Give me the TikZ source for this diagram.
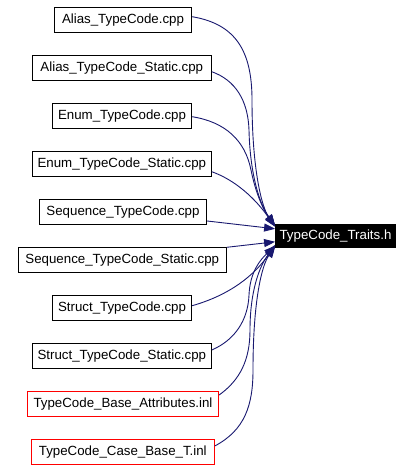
\documentclass[tikz,border=0pt]{standalone}
\usepackage{fontspec}
\setmainfont{Liberation Sans}
\usetikzlibrary{arrows.meta}
\definecolor{edgeblue}{HTML}{191970}
\tikzset{
  filebox/.style={draw=black, line width=0.9pt, minimum height=25pt, inner xsep=2pt, inner ysep=0pt, font=\fontsize{13.3}{16}\selectfont, anchor=center},
  redbox/.style={filebox, draw=red},
  mainbox/.style={fill=black, text=white, minimum height=23.7pt, minimum width=120.4pt, inner xsep=2pt, inner ysep=0pt, font=\fontsize{13.3}{16}\selectfont},
  dep/.style={draw=edgeblue, line width=0.9pt, -{Triangle[length=11pt,width=8pt]}, edgeblue}
}
\begin{document}
\begin{tikzpicture}[x=1pt,y=-1pt]
\useasboundingbox[fill=white] (0,0) rectangle (414,470);
\node[filebox, minimum width=137.4pt] (a1) at (123,19.8) {Alias\_TypeCode.cpp};
\node[filebox, minimum width=179pt] (a2) at (121.8,67.8) {Alias\_TypeCode\_Static.cpp};
\node[filebox, minimum width=139.4pt] (a3) at (122,115.8) {Enum\_TypeCode.cpp};
\node[filebox, minimum width=179pt] (a4) at (121.8,163.8) {Enum\_TypeCode\_Static.cpp};
\node[filebox, minimum width=167.4pt] (a5) at (123,211.8) {Sequence\_TypeCode.cpp};
\node[filebox, minimum width=208pt] (a6) at (122.3,260) {Sequence\_TypeCode\_Static.cpp};
\node[filebox, minimum width=139.4pt] (a7) at (122,307.8) {Struct\_TypeCode.cpp};
\node[filebox, minimum width=179pt] (a8) at (121.8,355.8) {Struct\_TypeCode\_Static.cpp};
\node[redbox, minimum width=191.4pt] (a9) at (123,403.8) {TypeCode\_Base\_Attributes.inl};
\node[redbox, minimum width=183pt] (a10) at (122.8,451.8) {TypeCode\_Case\_Base\_T.inl};
\node[mainbox] (t) at (335.5,235.8) {TypeCode\_Traits.h};

\draw[dep] ([yshift=3.1pt]a1.east) .. controls (235,24) and (252,50) .. (252,100) .. controls (252,170) and (262,208) .. ([yshift=10.5pt]t.west);
\draw[dep] ([yshift=-3.9pt]a2.east) .. controls (235,80) and (248,100) .. (249,130) .. controls (250,175) and (260,205) .. ([yshift=10pt]t.west);
\draw[dep] ([yshift=-0.9pt]a3.east) .. controls (225,122) and (245,140) .. (251,170) .. controls (255,190) and (262,208) .. ([yshift=9.5pt]t.west);
\draw[dep] ([yshift=-7.9pt]a4.east) .. controls (235,180) and (255,198) .. ([yshift=9pt]t.west);
\draw[dep] ([yshift=-9.2pt]a5.east) -- ([yshift=7pt]t.west);
\draw[dep] ([yshift=12.7pt]a6.east) -- ([yshift=-6pt]t.west);
\draw[dep] ([yshift=2.1pt]a7.east) .. controls (230,295) and (255,275) .. ([yshift=-9pt]t.west);
\draw[dep] ([yshift=5.8pt]a8.east) .. controls (235,340) and (248,320) .. (249,295) .. controls (250,272) and (260,260) .. ([yshift=-10pt]t.west);
\draw[dep] ([yshift=8.8pt]a9.east) .. controls (240,380) and (250,360) .. (250,330) .. controls (250,290) and (260,265) .. ([yshift=-10.5pt]t.west);
\draw[dep] ([yshift=5.8pt]a10.east) .. controls (245,430) and (253,405) .. (253,370) .. controls (253,300) and (262,265) .. ([yshift=-11pt]t.west);
\end{tikzpicture}
\end{document}
